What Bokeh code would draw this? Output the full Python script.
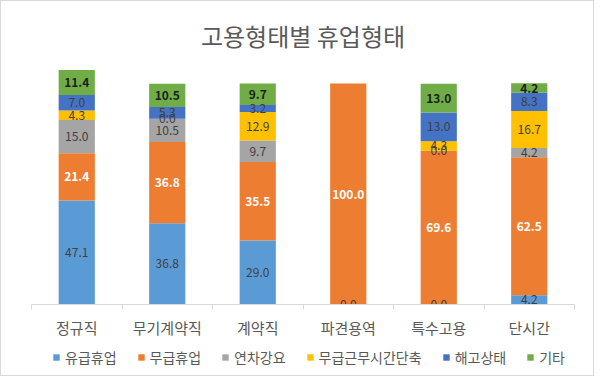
from bokeh.plotting import figure
from bokeh.layouts import column
from bokeh.models import ColumnDataSource, FixedTicker, Legend, LegendItem, Range1d
from bokeh.embed import file_html
from bokeh.resources import INLINE
from bokeh.core.properties import value

categories = ["정규직", "무기계약직", "계약직", "파견용역", "특수고용", "단시간"]
series_names = ["유급휴업", "무급휴업", "연차강요", "무급근무시간단축", "해고상태", "기타"]
paid_leave = [47.1, 36.8, 29.0, 0.0, 0.0, 4.2]
unpaid_leave = [21.4, 36.8, 35.5, 100.0, 69.6, 62.5]
forced_annual = [15.0, 10.5, 9.7, 0.0, 0.0, 4.2]
unpaid_hours_cut = [4.3, 0.0, 12.9, 0.0, 4.3, 16.7]
dismissal = [7.0, 5.3, 3.2, 0.0, 13.0, 8.3]
other = [11.4, 10.5, 9.7, 0.0, 13.0, 4.2]

series_values = [paid_leave, unpaid_leave, forced_annual, unpaid_hours_cut, dismissal, other]
colors = ["#5B9BD5", "#ED7D31", "#A5A5A5", "#FFC000", "#4472C4", "#70AD47"]
label_colors = ["#404040", "#FFFFFF", "#404040", "#404040", "#404040", "#1E1E1E"]
label_styles = ["normal", "bold", "normal", "normal", "normal", "bold"]

FONT = "Noto Sans CJK KR"
xs = list(range(len(categories)))

data = {"x": xs}
keys = [f"s{k}" for k in range(len(series_names))]
for key, vals in zip(keys, series_values):
    data[key] = vals
source = ColumnDataSource(data)

p = figure(width=592, height=340, output_backend="svg", toolbar_location=None,
           x_range=(-0.5, len(categories) - 0.5), y_range=(0, 110),
           min_border_left=30, min_border_right=19, min_border_top=60, min_border_bottom=37)

p.title.text = "고용형태별 휴업형태"
p.title.align = "center"
p.title.text_font = FONT
p.title.text_font_size = "24px"
p.title.text_font_style = "normal"
p.title.text_color = "#595959"
p.title.standoff = 17

renderers = p.vbar_stack(keys, x="x", width=0.4, color=colors, source=source,
                         line_color=None)

# data labels
lx, ly, lt, lc, ls = [], [], [], [], []
for i in range(len(categories)):
    bottom = 0.0
    for k, vals in enumerate(series_values):
        v = vals[i]
        if v > 0 or bottom < 100:
            lx.append(xs[i])
            ly.append(bottom + v / 2)
            lt.append(f"{v:.1f}")
            lc.append(label_colors[k])
            ls.append(label_styles[k])
        bottom += v
lsrc = ColumnDataSource(dict(x=lx, y=ly, t=lt, c=lc, s=ls))
p.text(x="x", y="y", text="t", source=lsrc, text_color="c", text_font_style="s",
       text_align="center", text_baseline="middle", text_font=value(FONT),
       text_font_size="12px")

# axes
p.yaxis.visible = False
p.xgrid.visible = False
p.ygrid.visible = False
p.outline_line_color = None

xa = p.xaxis[0]
xa.ticker = FixedTicker(ticks=xs, minor_ticks=[x - 0.5 for x in xs] + [xs[-1] + 0.5])
xa.major_label_overrides = {x: c for x, c in zip(xs, categories)}
xa.major_tick_line_color = None
xa.minor_tick_line_color = "#d9d9d9"
xa.minor_tick_out = 5
xa.minor_tick_in = 0
xa.axis_line_color = "#d9d9d9"
xa.major_label_text_font = FONT
xa.major_label_text_font_size = "15px"
xa.major_label_text_color = "#595959"
xa.major_label_standoff = 6

# legend lives in a slim companion figure (its bars are outside its visible range)
pl = figure(width=592, height=34, output_backend="svg", toolbar_location=None,
            x_range=Range1d(-0.5, len(categories) - 0.5), y_range=Range1d(1000, 2000),
            min_border_left=0, min_border_right=0, min_border_top=0, min_border_bottom=0)
pl.axis.visible = False
pl.xgrid.visible = False
pl.ygrid.visible = False
pl.outline_line_color = None
lrends = pl.vbar_stack(keys, x="x", width=0.4, color=colors, source=source, line_color=None)

legend = Legend(items=[LegendItem(label=n, renderers=[r]) for n, r in zip(series_names, lrends)],
                orientation="horizontal", location=(21, 8),
                label_text_font=FONT, label_text_font_size="14px", label_text_color="#595959",
                glyph_width=8, glyph_height=8, label_standoff=5, spacing=20,
                padding=0, margin=0,
                border_line_color=None, background_fill_alpha=0)
pl.add_layout(legend)

layout = column(p, pl)
layout.styles = {"border": "1px solid #d9d9d9"}
open("out.html", "w").write(file_html(layout, INLINE))
